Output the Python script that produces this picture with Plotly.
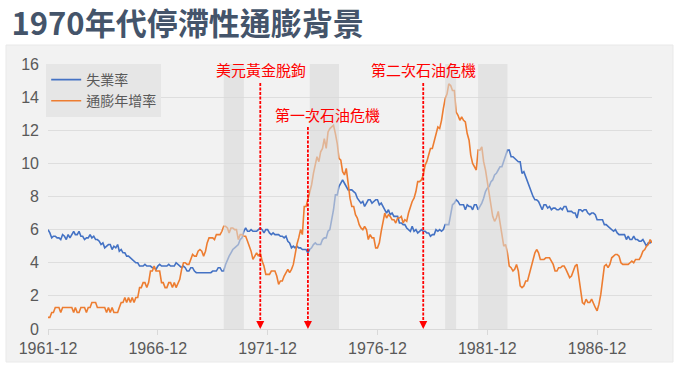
import pandas as pd
import plotly.graph_objects as go

# ---------------- data ----------------
start_month = "1961-12"
end_month = "1989-06"

unemployment = [
    6.0,
    5.8, 5.5, 5.6, 5.6, 5.5, 5.5, 5.4, 5.7, 5.6, 5.4, 5.7, 5.5,  # 1962
    5.7, 5.9, 5.7, 5.7, 5.9, 5.6, 5.6, 5.4, 5.5, 5.5, 5.7, 5.5,  # 1963
    5.6, 5.4, 5.4, 5.3, 5.1, 5.2, 4.9, 5.0, 5.1, 5.1, 4.8, 5.0,  # 1964
    4.9, 5.1, 4.7, 4.8, 4.6, 4.6, 4.4, 4.4, 4.3, 4.2, 4.1, 4.0,  # 1965
    4.0, 3.8, 3.8, 3.8, 3.9, 3.8, 3.8, 3.8, 3.7, 3.7, 3.6, 3.8,  # 1966
    3.9, 3.8, 3.8, 3.8, 3.8, 3.9, 3.8, 3.8, 3.8, 4.0, 3.9, 3.8,  # 1967
    3.7, 3.8, 3.7, 3.5, 3.5, 3.7, 3.7, 3.5, 3.4, 3.4, 3.4, 3.4,  # 1968
    3.4, 3.4, 3.4, 3.4, 3.4, 3.5, 3.5, 3.5, 3.7, 3.7, 3.5, 3.5,  # 1969
    3.9, 4.2, 4.4, 4.6, 4.8, 4.9, 5.0, 5.1, 5.4, 5.5, 5.9, 6.1,  # 1970
    5.9, 5.9, 6.0, 5.9, 5.9, 5.9, 6.0, 6.1, 6.0, 5.8, 6.0, 6.0,  # 1971
    5.8, 5.7, 5.8, 5.7, 5.7, 5.7, 5.6, 5.6, 5.5, 5.6, 5.3, 5.2,  # 1972
    4.9, 5.0, 4.9, 5.0, 4.9, 4.9, 4.8, 4.8, 4.8, 4.6, 4.8, 4.9,  # 1973
    5.1, 5.2, 5.1, 5.1, 5.1, 5.4, 5.5, 5.5, 5.9, 6.0, 6.6, 7.2,  # 1974
    8.1, 8.1, 8.6, 8.8, 9.0, 8.8, 8.6, 8.4, 8.4, 8.4, 8.3, 8.2,  # 1975
    7.9, 7.7, 7.6, 7.7, 7.4, 7.6, 7.8, 7.8, 7.6, 7.7, 7.8, 7.8,  # 1976
    7.5, 7.6, 7.4, 7.2, 7.0, 7.2, 6.9, 7.0, 6.8, 6.8, 6.8, 6.4,  # 1977
    6.4, 6.3, 6.3, 6.1, 6.0, 5.9, 6.2, 5.9, 6.0, 5.8, 5.9, 6.0,  # 1978
    5.9, 5.9, 5.8, 5.8, 5.6, 5.7, 5.7, 6.0, 5.9, 6.0, 5.9, 6.0,  # 1979
    6.3, 6.3, 6.3, 6.9, 7.5, 7.6, 7.8, 7.7, 7.5, 7.5, 7.5, 7.2,  # 1980
    7.5, 7.4, 7.4, 7.2, 7.5, 7.5, 7.2, 7.4, 7.6, 7.9, 8.3, 8.5,  # 1981
    8.6, 8.9, 9.0, 9.3, 9.4, 9.6, 9.8, 9.8, 10.1, 10.4, 10.8, 10.8,  # 1982
    10.4, 10.4, 10.3, 10.2, 10.1, 10.1, 9.4, 9.5, 9.2, 8.8, 8.5, 8.3,  # 1983
    8.0, 7.8, 7.8, 7.7, 7.4, 7.2, 7.5, 7.5, 7.3, 7.4, 7.2, 7.3,  # 1984
    7.3, 7.2, 7.2, 7.3, 7.2, 7.4, 7.4, 7.1, 7.1, 7.1, 7.0, 7.0,  # 1985
    6.7, 7.2, 7.2, 7.1, 7.2, 7.2, 7.0, 6.9, 7.0, 7.0, 6.9, 6.6,  # 1986
    6.6, 6.6, 6.6, 6.3, 6.3, 6.2, 6.1, 6.0, 5.9, 6.0, 5.8, 5.7,  # 1987
    5.7, 5.7, 5.7, 5.4, 5.6, 5.4, 5.4, 5.6, 5.4, 5.4, 5.3, 5.3,  # 1988
    5.4, 5.2, 5.0, 5.2, 5.2, 5.3,                                # 1989
]

inflation_yoy = [
    0.7,
    0.7, 1.0, 1.0, 1.3, 1.3, 1.3, 1.0, 1.3, 1.3, 1.3, 1.3, 1.3,  # 1962
    1.3, 1.0, 1.3, 1.0, 1.0, 1.3, 1.3, 1.3, 1.0, 1.3, 1.3, 1.6,  # 1963
    1.6, 1.6, 1.3, 1.3, 1.3, 1.3, 1.3, 1.0, 1.3, 1.0, 1.3, 1.0,  # 1964
    1.0, 1.0, 1.3, 1.6, 1.6, 1.9, 1.6, 1.9, 1.6, 1.9, 1.6, 1.9,  # 1965
    1.9, 2.5, 2.5, 2.8, 2.8, 2.5, 2.8, 3.5, 3.5, 3.8, 3.5, 3.5,  # 1966
    3.5, 2.8, 2.8, 2.5, 2.5, 2.8, 2.8, 2.5, 2.8, 2.5, 2.8, 3.0,  # 1967
    3.6, 4.0, 4.0, 3.9, 3.9, 4.2, 4.5, 4.4, 4.4, 4.7, 4.8, 4.7,  # 1968
    4.4, 4.7, 5.2, 5.5, 5.5, 5.5, 5.4, 5.7, 5.7, 5.7, 5.9, 6.2,  # 1969
    6.2, 6.1, 5.8, 6.1, 6.1, 6.0, 6.0, 5.4, 5.7, 5.7, 5.6, 5.6,  # 1970
    5.3, 5.0, 4.7, 4.2, 4.4, 4.6, 4.4, 4.6, 4.1, 3.8, 3.3, 3.3,  # 1971
    3.3, 3.5, 3.5, 3.5, 3.2, 2.7, 2.9, 2.9, 3.2, 3.4, 3.6, 3.4,  # 1972
    3.6, 3.9, 4.6, 5.1, 5.5, 6.0, 5.7, 7.4, 7.4, 7.8, 8.3, 8.7,  # 1973
    9.4, 10.0, 10.4, 10.1, 10.7, 10.9, 11.5, 10.9, 11.9, 12.1, 12.2, 12.3,  # 1974
    11.8, 11.2, 10.3, 10.2, 9.5, 9.3, 9.7, 8.6, 7.9, 7.4, 7.4, 6.9,  # 1975
    6.7, 6.3, 6.1, 6.0, 6.2, 6.0, 5.4, 5.7, 5.5, 5.5, 4.9, 4.9,  # 1976
    5.2, 5.9, 6.4, 7.0, 6.7, 6.9, 6.8, 6.6, 6.6, 6.4, 6.7, 6.7,  # 1977
    6.8, 6.4, 6.6, 6.5, 7.0, 7.4, 7.7, 7.9, 8.3, 8.9, 8.9, 9.0,  # 1978
    9.3, 9.9, 10.1, 10.5, 10.9, 10.9, 11.3, 11.8, 12.2, 12.1, 12.6, 13.3,  # 1979
    13.9, 14.2, 14.8, 14.7, 14.4, 14.4, 13.1, 12.9, 12.6, 12.8, 12.6, 12.5,  # 1980
    11.8, 11.4, 10.5, 10.0, 9.8, 9.6, 10.8, 10.8, 11.0, 10.1, 9.6, 8.9,  # 1981
    8.4, 7.6, 6.8, 6.5, 6.7, 7.1, 6.4, 5.9, 5.0, 5.1, 4.6, 3.8,  # 1982
    3.7, 3.5, 3.6, 3.9, 3.5, 2.6, 2.5, 2.6, 2.9, 2.9, 3.3, 3.8,  # 1983
    4.2, 4.6, 4.8, 4.6, 4.2, 4.2, 4.2, 4.3, 4.3, 4.3, 4.1, 3.9,  # 1984
    3.5, 3.5, 3.7, 3.7, 3.8, 3.8, 3.6, 3.3, 3.1, 3.2, 3.5, 3.8,  # 1985
    3.9, 3.1, 2.2, 1.6, 1.5, 1.8, 1.6, 1.6, 1.8, 1.5, 1.3, 1.1,  # 1986
    1.5, 2.1, 3.0, 3.8, 3.9, 3.7, 3.9, 4.3, 4.4, 4.5, 4.5, 4.4,  # 1987
    4.0, 3.9, 3.9, 3.9, 3.9, 4.0, 4.1, 4.0, 4.2, 4.2, 4.2, 4.4,  # 1988
    4.7, 4.8, 5.0, 5.1, 5.4, 5.2,                                # 1989
]

series_names = ["失業率", "通膨年增率"]
title_text = "1970年代停滯性通膨背景"

recession_starts = ["1969-12", "1973-11", "1980-01", "1981-07"]
recession_ends = ["1970-11", "1975-03", "1980-07", "1982-11"]

event_dates = ["1971-08", "1973-10", "1979-01"]
event_labels = ["美元黃金脫鉤", "第一次石油危機", "第二次石油危機"]

x_tick_months = ["1961-12", "1966-12", "1971-12", "1976-12", "1981-12", "1986-12"]
y_ticks = [0, 2, 4, 6, 8, 10, 12, 14, 16]

# ---------------- figure ----------------
dates = pd.date_range(start_month + "-01", end_month + "-01", freq="MS")

BLUE = "#4472C4"
ORANGE = "#ED7D31"
GREY_TXT = "#595959"
RED = "#FF0000"

fig = go.Figure()
fig.add_trace(go.Scatter(x=dates, y=unemployment, mode="lines", name=series_names[0],
                         line=dict(color=BLUE, width=1.6)))
fig.add_trace(go.Scatter(x=dates, y=inflation_yoy, mode="lines", name=series_names[1],
                         line=dict(color=ORANGE, width=1.6)))

shapes = []
# grey panel behind chart
shapes.append(dict(type="rect", xref="paper", yref="paper",
                   x0=-0.0695, x1=1.0348, y0=-0.1245, y1=1.0717,
                   fillcolor="#F2F2F2", line=dict(color="#E9E9E9", width=1), layer="below"))
# recession bands
for s, e in zip(recession_starts, recession_ends):
    shapes.append(dict(type="rect", xref="x", yref="y",
                       x0=s + "-01", x1=e + "-01", y0=0, y1=16,
                       fillcolor="#D9D9D9", opacity=0.6, line=dict(width=0), layer="above"))

annotations = []
event_tops = [14.86, 12.2, 14.86]
label_ys = [15.64, 12.95, 15.64]
label_shifts = [1, 20, 0]
for d, lab, top, ly, sh in zip(event_dates, event_labels, event_tops, label_ys, label_shifts):
    xd = d + "-01"
    shapes.append(dict(type="line", xref="x", yref="y", x0=xd, x1=xd, y0=top, y1=0.35,
                       line=dict(color=RED, width=1.8, dash="3px,1.5px"), layer="above"))
    annotations.append(dict(x=xd, y=0, xref="x", yref="y", text="", showarrow=True,
                            ax=0, ay=-8, arrowhead=2, arrowsize=1, arrowwidth=1.6,
                            arrowcolor=RED, standoff=0))
    annotations.append(dict(x=xd, y=ly, xref="x", yref="y", text=lab, showarrow=False,
                            xshift=sh, font=dict(family="Noto Sans CJK TC", size=15, color=RED)))

fig.update_layout(
    width=677, height=369,
    margin=dict(l=48, r=25, t=64, b=40),
    paper_bgcolor="white",
    plot_bgcolor="rgba(0,0,0,0)",
    title=dict(text="<b>" + title_text + "</b>", xref="container", yref="container",
               x=0.017, xanchor="left", y=0.935, yanchor="middle",
               font=dict(family="Noto Sans CJK TC", size=31, color="#44546A")),
    shapes=shapes,
    annotations=annotations,
    showlegend=True,
    legend=dict(x=-0.003, y=1.0, xanchor="left", yanchor="top",
                bgcolor="#E6E6E6", font=dict(family="Noto Sans CJK TC", size=14, color=GREY_TXT),
                itemwidth=30, tracegroupgap=0),
    xaxis=dict(type="date",
               range=[start_month + "-01", end_month + "-01"],
               tickvals=[m + "-01" for m in x_tick_months],
               ticktext=x_tick_months,
               showgrid=False, showline=True, linecolor="#D9D9D9", linewidth=1,
               ticks="outside", ticklen=5, tickcolor="#D9D9D9",
               tickfont=dict(family="Liberation Sans", size=16, color=GREY_TXT)),
    yaxis=dict(range=[0, 16], tickvals=y_ticks,
               showgrid=True, gridcolor="#DEDEDE", gridwidth=1,
               zeroline=False, ticks="", ticklabelstandoff=8,
               tickfont=dict(family="Liberation Sans", size=16, color=GREY_TXT)),
)

fig.write_html("out.html", config={"displayModeBar": False},
               post_script="document.body.style.margin='0px';")
